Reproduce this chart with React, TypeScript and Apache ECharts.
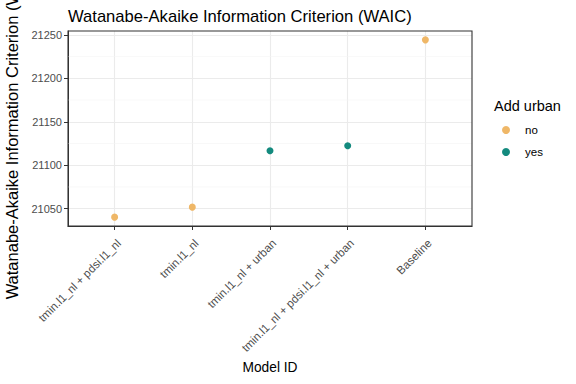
import React, { useEffect, useRef } from "react";
import * as echarts from "echarts";

const categories = [
  "tmin.l1_nl + pdsi.l1_nl",
  "tmin.l1_nl",
  "tmin.l1_nl + urban",
  "tmin.l1_nl + pdsi.l1_nl + urban",
  "Baseline",
];
const waic = [21040.3, 21051.8, 21116.6, 21122.4, 21244.2];
const addUrban = ["no", "no", "yes", "yes", "no"];
const groups = ["no", "yes"];
const groupColors = ["#EFB767", "#138A7E"];
const yTicks = [21050, 21100, 21150, 21200, 21250];
const minorBreaks = [21075, 21125, 21175, 21225];

const FONT = "Liberation Sans, Arial, Helvetica, sans-serif";

export default function App() {
  const ref = useRef<HTMLDivElement>(null);
  useEffect(() => {
    if (!ref.current) return;
    const chart = echarts.init(ref.current, null, { renderer: "svg" });
    const lo = Math.min(...waic);
    const hi = Math.max(...waic);
    const pad = (hi - lo) * 0.05;
    const xIdx = categories.map((_, i) => i);
    const series: any[] = groups.map((g, gi) => ({
      name: g,
      type: "scatter",
      symbol: "circle",
      symbolSize: 7,
      z: 3,
      itemStyle: { color: groupColors[gi], opacity: 1 },
      data: categories
        .map((c, i) => (addUrban[i] === g ? [i, waic[i]] : null))
        .filter((d) => d !== null),
    }));
    series.push({
      name: "_minor",
      type: "custom",
      silent: true,
      z: 1,
      data: minorBreaks.map((v) => [v]),
      renderItem: (params: any, api: any) => {
        const y = api.coord([0, api.value(0)])[1];
        const cs = params.coordSys;
        return {
          type: "line",
          shape: { x1: cs.x, y1: y, x2: cs.x + cs.width, y2: y },
          style: { stroke: "#F4F4F4", lineWidth: 0.6 },
        };
      },
      encode: { y: 0 },
    });
    chart.setOption({
      animation: false,
      textStyle: { fontFamily: FONT },
      title: [
        {
          text: "Watanabe-Akaike Information Criterion (WAIC)",
          left: 63,
          top: 3,
          textStyle: { fontSize: 16.6, fontWeight: "normal", color: "#000", fontFamily: FONT },
        },
        {
          text: "Add urban",
          left: 489,
          top: 93,
          textStyle: { fontSize: 14.5, fontWeight: "normal", color: "#000", fontFamily: FONT },
        },
      ],
      legend: {
        data: groups,
        orient: "vertical",
        left: 497,
        top: 119,
        icon: "circle",
        itemWidth: 8,
        itemHeight: 8,
        itemGap: 10,
        textStyle: { fontSize: 11.5, color: "#000", fontFamily: FONT, padding: [0, 0, 0, 10] },
      },
      grid: {
        left: 68,
        right: 104,
        top: 31,
        bottom: 158,
        containLabel: false,
        outerBoundsMode: "none",
      },
      xAxis: {
        type: "value",
        min: -0.6,
        max: categories.length - 1 + 0.6,
        splitNumber: 5,
        name: "Model ID",
        nameLocation: "middle",
        nameGap: 134,
        nameTextStyle: { fontSize: 13.75, color: "#000", fontFamily: FONT },
        axisLine: { show: true, onZero: false, lineStyle: { color: "#333333", width: 1 } },
        axisTick: {
          show: true,
          length: 4,
          customValues: xIdx,
          lineStyle: { color: "#333333", width: 1 },
        },
        axisLabel: {
          rotate: 45,
          fontSize: 11.5,
          color: "#4D4D4D",
          margin: 11,
          align: "right",
          verticalAlign: "top",
          customValues: xIdx,
          fontFamily: FONT,
          formatter: (v: number) => categories[Math.round(v)] ?? "",
        },
        splitLine: { show: true, lineStyle: { color: "#EBEBEB", width: 1.1 } },
      },
      yAxis: {
        type: "value",
        min: lo - pad,
        max: hi + pad,
        splitNumber: 5,
        name: "Watanabe-Akaike Information Criterion (WAIC)",
        nameLocation: "middle",
        nameGap: 47,
        nameTextStyle: { fontSize: 16.5, color: "#000", fontFamily: FONT },
        axisLine: { show: true, onZero: false, lineStyle: { color: "#333333", width: 1 } },
        axisTick: {
          show: true,
          length: 4,
          customValues: yTicks,
          lineStyle: { color: "#333333", width: 1 },
        },
        axisLabel: {
          fontSize: 11,
          color: "#4D4D4D",
          margin: 6,
          customValues: yTicks,
          fontFamily: FONT,
          formatter: (v: number) => String(v),
        },
        splitLine: { show: true, lineStyle: { color: "#EBEBEB", width: 1.1 } },
      },
      graphic: [
        {
          type: "rect",
          silent: true,
          z: 10,
          shape: { x: 68, y: 31, width: 404, height: 195 },
          style: { fill: "none", stroke: "#333333", lineWidth: 1.1 },
        },
      ],
      series,
    });
    return () => chart.dispose();
  }, []);
  return <div ref={ref} style={{ width: 576, height: 384, position: "absolute", left: 0, top: 0 }} />;
}
